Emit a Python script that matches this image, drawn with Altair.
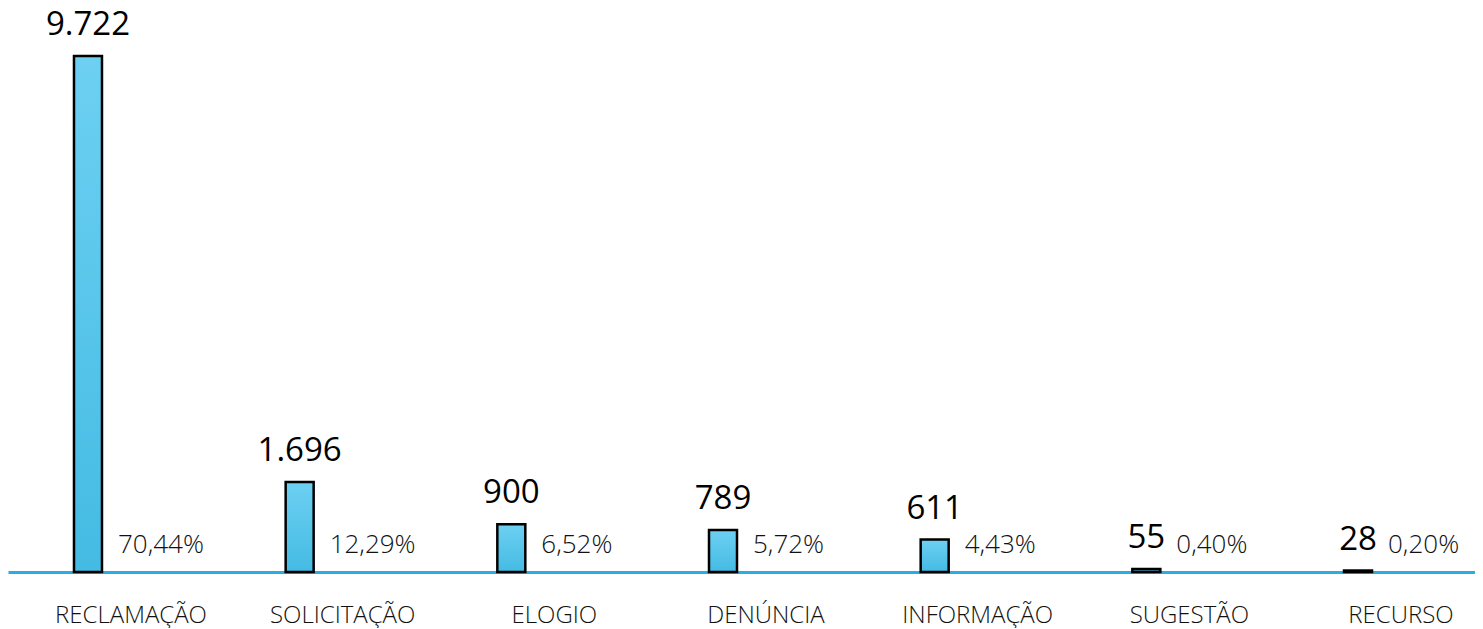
import altair as alt
import pandas as pd

categorias = ["RECLAMAÇÃO", "SOLICITAÇÃO", "ELOGIO", "DENÚNCIA", "INFORMAÇÃO", "SUGESTÃO", "RECURSO"]
valores = [9722, 1696, 900, 789, 611, 55, 28]
rotulos_valor = ["9.722", "1.696", "900", "789", "611", "55", "28"]
percentuais = ["70,44%", "12,29%", "6,52%", "5,72%", "4,43%", "0,40%", "0,20%"]

df = pd.DataFrame({
    "categoria": categorias,
    "valor": valores,
    "rotulo": rotulos_valor,
    "pct": percentuais,
})

FONT = "Open Sans"

x = alt.X(
    "categoria:N",
    sort=None,
    scale=alt.Scale(range=[0, 1516], paddingInner=0, paddingOuter=0.081),
    axis=alt.Axis(
        title=None,
        ticks=False,
        domain=True,
        domainColor="#2AADE0",
        domainWidth=3,
        labelAngle=0,
        labelFont=FONT,
        labelFontSize=24,
        labelColor="#111111",
        labelFontWeight=300,
        labelBaseline="alphabetic",
        labelPadding=50,
        grid=False,
    ),
)
y = alt.Y("valor:Q", scale=alt.Scale(domain=[0, 10476], nice=False), axis=None)

base = alt.Chart(df)

bars = base.mark_bar(
    width=28,
    xOffset=-43,
    stroke="black",
    strokeWidth=2.5,
    color=alt.Gradient(
        gradient="linear",
        stops=[alt.GradientStop(color="#6DD0F2", offset=0), alt.GradientStop(color="#44BBE3", offset=1)],
        x1=0, x2=0, y1=0, y2=1,
    ),
).encode(x=x, y=y)

valor_txt = base.mark_text(
    align="center", baseline="alphabetic", dx=-43, dy=-21,
    font=FONT, fontSize=33, color="black",
).encode(x=x, y=y, text="rotulo:N")

pct_txt = base.mark_text(
    align="left", baseline="alphabetic", dx=-13, dy=-19,
    font=FONT, fontSize=26, fontWeight=300, color="#111111",
).encode(x=x, y=alt.datum(0), text="pct:N")

chart = alt.layer(bars, valor_txt, pct_txt).properties(
    width=1467, height=556,
    autosize=alt.AutoSizeParams(type="none"),
    padding={"left": 0, "top": 8, "right": 0, "bottom": 56},
    background="white",
).configure_view(strokeWidth=0, stroke="transparent")

chart.save("out.html", embed_options={"renderer": "svg", "actions": False})
